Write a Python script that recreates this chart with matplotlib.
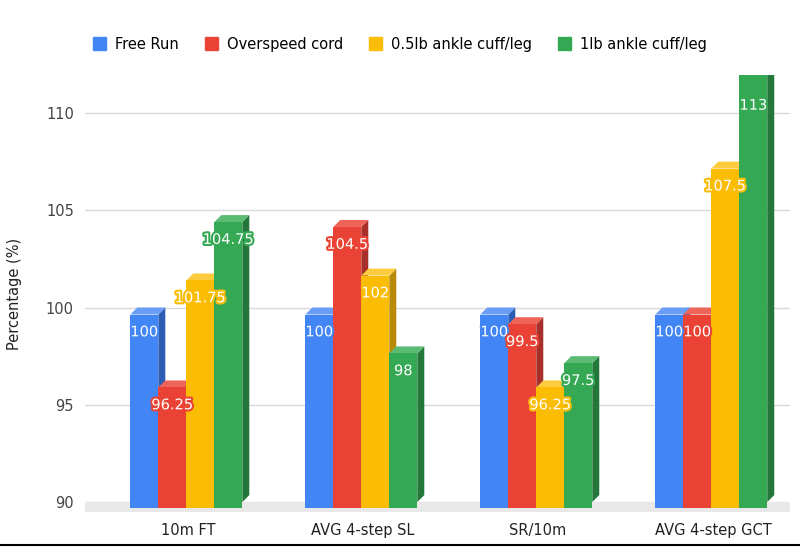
import matplotlib.pyplot as plt
import matplotlib.patheffects as pe
from matplotlib.patches import Polygon, Rectangle
from matplotlib.lines import Line2D

categories = ['10m FT', 'AVG 4-step SL', 'SR/10m', 'AVG 4-step GCT']
series_names = ['Free Run', 'Overspeed cord', '0.5lb ankle cuff/leg', '1lb ankle cuff/leg']
free_run = [100, 100, 100, 100]
overspeed = [96.25, 104.5, 99.5, 100]
half_lb = [101.75, 102, 96.25, 107.5]
one_lb = [104.75, 98, 97.5, 113]
labels = [['100', '100', '100', '100'],
          ['96.25', '104.5', '99.5', '100'],
          ['101.75', '102', '96.25', '107.5'],
          ['104.75', '98', '97.5', '113']]
series = [free_run, overspeed, half_lb, one_lb]

front = ['#4285F4', '#EA4335', '#FBBC04', '#34A853']
side = ['#2C5DB5', '#A8302A', '#B88A05', '#24773A']
top = ['#6A9EF6', '#EE6459', '#FCCB3E', '#5BBB72']

fig = plt.figure(figsize=(8, 5.5), dpi=100)
ax = fig.add_axes([85 / 800, 1 - 512 / 550, 705 / 800, 437 / 550])
ymin, ymax = 89.49, 111.95
ax.set_xlim(-0.589, 3.44)
ax.set_ylim(ymin, ymax)

for v in [90, 95, 100, 105, 110]:
    ax.axhline(v, color='#d9d9d9', lw=1, zorder=0)
# floor
ax.add_patch(Rectangle((-0.589, ymin), 4.1, 90 - ymin, color='#e8e8e8', zorder=0.5, lw=0))

w = 0.16
dx, dy = 0.04, 0.36
for i, vals in enumerate(series):
    for j, v in enumerate(vals):
        x0 = j + (i - 2) * w - 0.01
        h = min(v, ymax + 1) - dy
        z = 2 + i
        ax.add_patch(Polygon([(x0 + w, 90), (x0 + w + dx, 90 + dy), (x0 + w + dx, h + dy), (x0 + w, h)],
                             closed=True, color=side[i], lw=0, zorder=z))
        ax.add_patch(Polygon([(x0, h), (x0 + dx, h + dy), (x0 + w + dx, h + dy), (x0 + w, h)],
                             closed=True, color=top[i], lw=0, zorder=z))
        ax.add_patch(Rectangle((x0, 89.7), w, h - 89.7, color=front[i], lw=0, zorder=z))
        ly = min(v - 1.25, 110.2) if v < ymax else 110.4
        ax.text(x0 + w / 2, ly, labels[i][j], ha='center', va='center', fontsize=10.5,
                color='white', zorder=10,
                path_effects=[pe.withStroke(linewidth=3, foreground=front[i])])

ax.set_xticks(range(4))
ax.set_xticklabels(categories, fontsize=10.5, color='#222222')
ax.set_yticks([90, 95, 100, 105, 110])
ax.set_yticklabels(['90', '95', '100', '105', '110'], fontsize=10.5, color='#444444')
ax.tick_params(length=0, pad=8)
for s in ax.spines.values():
    s.set_visible(False)
ax.set_ylabel('Percentage (%)', fontsize=10.5, color='#222222', labelpad=30)
ax.yaxis.set_label_coords(-0.09, 0.5)

handles = [Rectangle((0, 0), 1, 1, color=c) for c in front]
fig.legend(handles, series_names, loc='center', bbox_to_anchor=(0.5, 1 - 44 / 550), ncol=4,
           frameon=False, fontsize=10.5, handlelength=0.9, handleheight=0.9,
           handletextpad=0.6, columnspacing=1.8)
fig.add_artist(Line2D([0, 1], [1 - 545 / 550, 1 - 545 / 550], color='black', lw=1.5))

fig.savefig('out.png', dpi=100)
